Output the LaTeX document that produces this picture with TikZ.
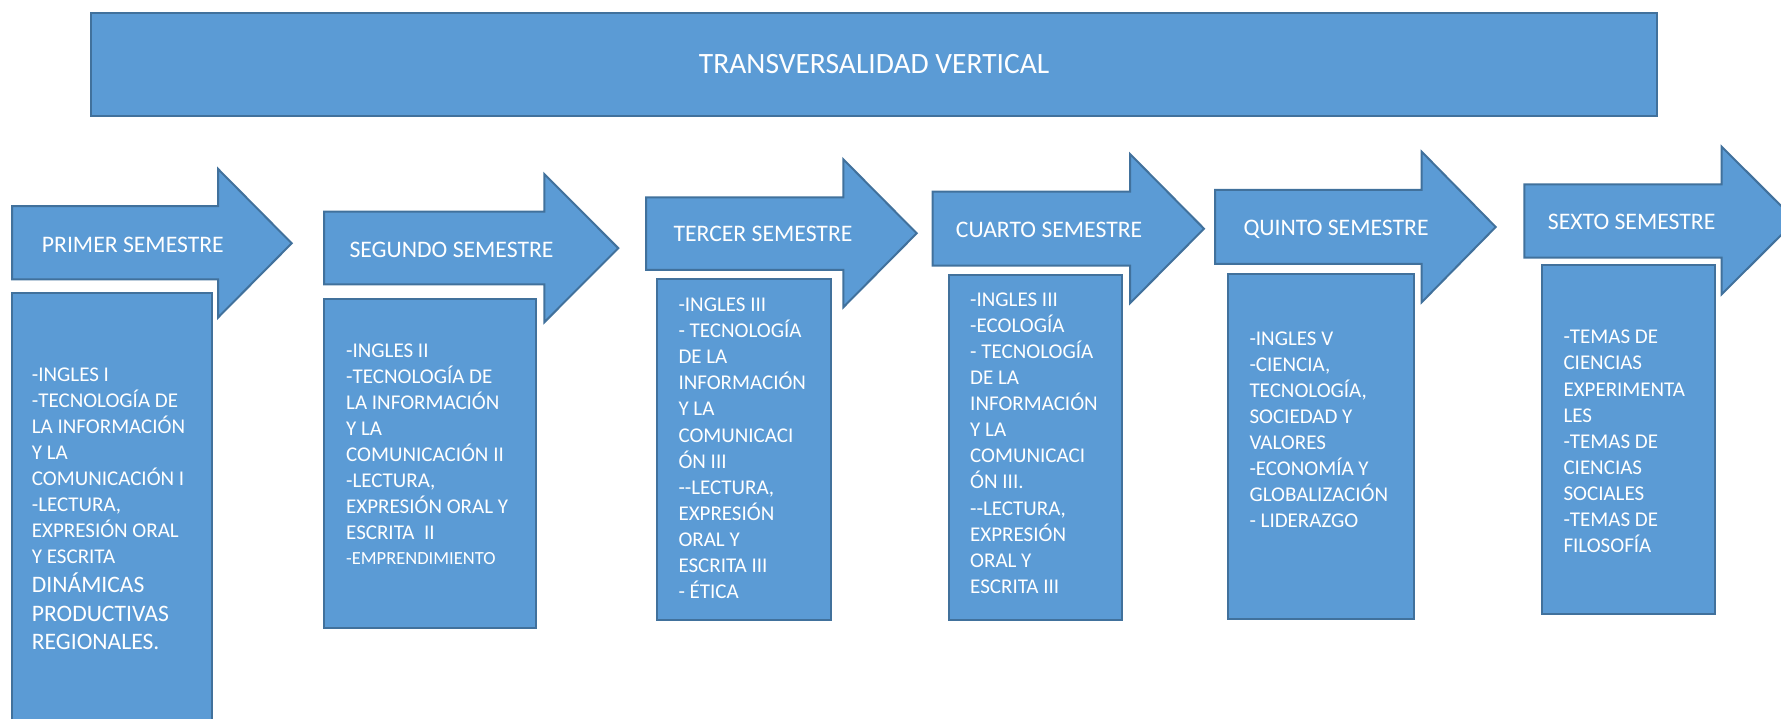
\documentclass[tikz,border=0pt]{standalone}
\usepackage{fontspec}
\setmainfont{Carlito}
\definecolor{semfill}{HTML}{5B9BD5}
\definecolor{semline}{HTML}{41719C}

\begin{document}
\begin{tikzpicture}[x=1pt,y=-1pt,
    blockfill/.style={fill=semfill,draw=semline,line width=2pt},
    semhead/.style={text=white,anchor=base west,inner sep=0,font=\fontsize{23.7}{28}\selectfont},
    semlist/.style={text=white,anchor=north west,inner sep=0,align=left,font=\fontsize{21}{26.1}\selectfont}]
    \clip (0,0) rectangle (1781,719);
    % banner
    \node[blockfill,anchor=north west,inner sep=0,minimum width=1565.7pt,minimum height=103.6pt,
      text=white,font=\fontsize{29.5}{35}\selectfont] (trans) at (90.3,11.7) {TRANSVERSALIDAD VERTICAL};
    % semester arrows
    \filldraw[blockfill] (12,206.2) -- (218,206.2) -- (218,168.9) -- (291.7,243.3) -- (218,317.6) -- (218,279.5) -- (12,279.5) -- cycle;
    \filldraw[blockfill] (324,211.7) -- (544.3,211.7) -- (544.3,174) -- (618.3,248.2) -- (544.3,322.3) -- (544.3,284.3) -- (324,284.3) -- cycle;
    \filldraw[blockfill] (646,197.3) -- (843.3,197.3) -- (843.3,159.3) -- (916.7,233.3) -- (843.3,307.3) -- (843.3,270) -- (646,270) -- cycle;
    \filldraw[blockfill] (932.7,191.7) -- (1130,191.7) -- (1130,154) -- (1204,228.7) -- (1130,303.3) -- (1130,265.7) -- (932.7,265.7) -- cycle;
    \filldraw[blockfill] (1215,190) -- (1421.7,190) -- (1421.7,151.7) -- (1495.7,227) -- (1421.7,302.3) -- (1421.7,264) -- (1215,264) -- cycle;
    \filldraw[blockfill] (1524.3,184.3) -- (1721.7,184.3) -- (1721.7,146.7) -- (1795.7,220.5) -- (1721.7,294.3) -- (1721.7,257.7) -- (1524.3,257.7) -- cycle;
    \node[semhead] (sem1) at (41.7,252.7) {PRIMER SEMESTRE};
    \node[semhead] (sem2) at (349.3,257.3) {SEGUNDO SEMESTRE};
    \node[semhead] (sem3) at (673.3,241.7) {TERCER SEMESTRE};
    \node[semhead] (sem4) at (955.7,237.7) {CUARTO SEMESTRE};
    \node[semhead] (sem5) at (1243.3,235.7) {QUINTO SEMESTRE};
    \node[semhead] (sem6) at (1547.7,229.3) {SEXTO SEMESTRE};
    % subject boxes
    \filldraw[blockfill] (12,292.6) rectangle (211.7,740);
    \filldraw[blockfill] (324,299) rectangle (536,627.7);
    \filldraw[blockfill] (656.7,279.3) rectangle (830.7,620);
    \filldraw[blockfill] (949,274.7) rectangle (1122.3,620);
    \filldraw[blockfill] (1227.7,274.3) rectangle (1414,619.3);
    \filldraw[blockfill] (1541.7,265) rectangle (1715,614.3);
    \node[semlist,font=\fontsize{21}{26}\selectfont] (list1) at (31.7,367.8) {-INGLES I\\-TECNOLOGÍA DE\\LA INFORMACIÓN\\Y LA\\COMUNICACIÓN I\\-LECTURA,\\EXPRESIÓN ORAL\\Y ESCRITA\\[3.1pt]
      {\fontsize{23.6}{28}\selectfont DINÁMICAS}\\[2.6pt]{\fontsize{23.6}{28}\selectfont PRODUCTIVAS}\\[2.3pt]{\fontsize{23.6}{28}\selectfont REGIONALES.}};
    \node[semlist,font=\fontsize{21}{26}\selectfont] (list2) at (346,344) {-INGLES II\\-TECNOLOGÍA DE\\LA INFORMACIÓN\\Y LA\\COMUNICACIÓN II\\-LECTURA,\\EXPRESIÓN ORAL Y\\ESCRITA\ \ II\\[-1.7pt]{\fontsize{18.5}{22}\selectfont -EMPRENDIMIENTO}};
    \node[semlist] (list3) at (678.3,297.7) {-INGLES III\\- TECNOLOGÍA\\DE LA\\INFORMACIÓN\\Y LA\\COMUNICACI\\ÓN III\\-{}-LECTURA,\\EXPRESIÓN\\ORAL Y\\ESCRITA III\\- ÉTICA};
    \node[semlist] (list4) at (970,292.4) {-INGLES III\\-ECOLOGÍA\\- TECNOLOGÍA\\DE LA\\INFORMACIÓN\\Y LA\\COMUNICACI\\ÓN III.\\-{}-LECTURA,\\EXPRESIÓN\\ORAL Y\\ESCRITA III};
    \node[semlist] (list5) at (1249.3,331.4) {-INGLES V\\-CIENCIA,\\TECNOLOGÍA,\\SOCIEDAD Y\\VALORES\\-ECONOMÍA Y\\GLOBALIZACIÓN\\- LIDERAZGO};
    \node[semlist] (list6) at (1563.3,330) {-TEMAS DE\\CIENCIAS\\EXPERIMENTA\\LES\\-TEMAS DE\\CIENCIAS\\SOCIALES\\-TEMAS DE\\FILOSOFÍA};
\end{tikzpicture}
\end{document}
